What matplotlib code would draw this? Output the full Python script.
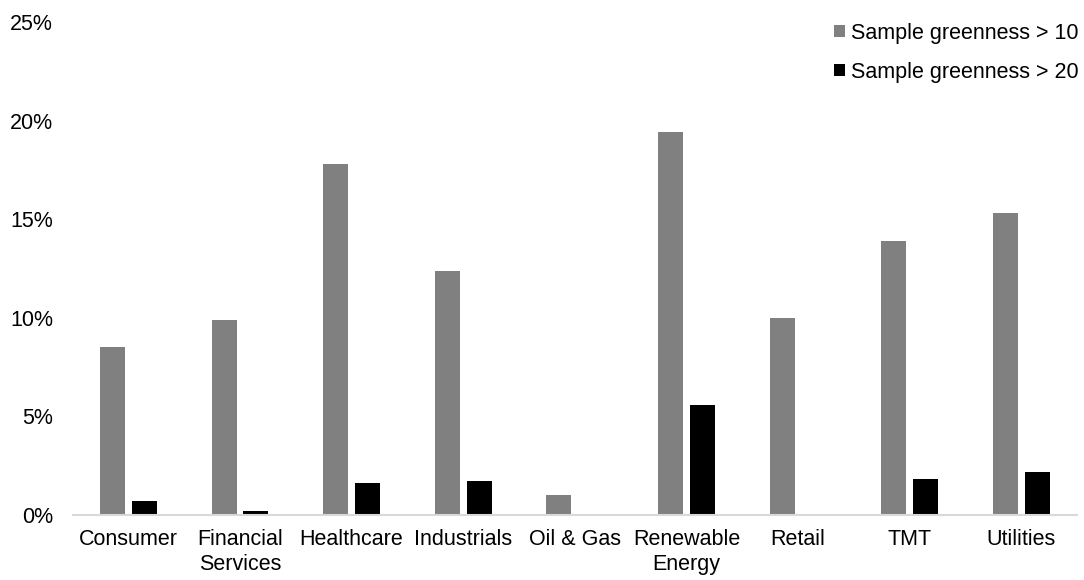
import numpy as np
import matplotlib.pyplot as plt
from matplotlib.patches import Patch
from matplotlib.ticker import FuncFormatter

plt.rcParams['font.family'] = ['Liberation Sans', 'DejaVu Sans']

categories = ["Consumer", "Financial\nServices", "Healthcare", "Industrials", "Oil & Gas",
              "Renewable\nEnergy", "Retail", "TMT", "Utilities"]
greenness_10 = [8.5, 9.9, 17.8, 12.4, 1.0, 19.4, 10.0, 13.9, 15.3]
greenness_20 = [0.7, 0.2, 1.6, 1.75, 0.0, 5.6, 0.0, 1.85, 2.2]
series_labels = ["Sample greenness > 10", "Sample greenness > 20"]
colors = ["#808080", "#000000"]

fs = 15.5
fig = plt.figure(figsize=(10.84, 5.8), dpi=100)
ax = fig.add_axes([0.067, 0.112, 0.9265, 0.85])

x = np.arange(len(categories))
w = 0.224
off = 0.143
ax.bar(x - off, greenness_10, width=w, color=colors[0])
ax.bar(x + off, greenness_20, width=w, color=colors[1])

ax.set_xlim(-0.5, len(categories) - 0.5)
ax.set_ylim(0, 25)
ax.set_yticks([0, 5, 10, 15, 20, 25])
ax.yaxis.set_major_formatter(FuncFormatter(lambda v, p: "{:.0f}%".format(v)))
ax.set_xticks(x)
ax.set_xticklabels(categories, fontsize=fs, linespacing=1.25)
ax.tick_params(axis='y', labelsize=fs, length=0, pad=14)
ax.tick_params(axis='x', length=0, pad=10)
for s in ["top", "right", "left"]:
    ax.spines[s].set_visible(False)
ax.spines["bottom"].set_color("#d9d9d9")
ax.spines["bottom"].set_linewidth(1.5)

handles = [Patch(facecolor=c) for c in colors]
fig.legend(handles, series_labels, loc="upper right", bbox_to_anchor=(1.003, 0.976),
           borderaxespad=0, frameon=False, fontsize=fs, handlelength=0.5,
           handleheight=0.5, handletextpad=0.3, labelspacing=0.85)

fig.savefig("out.png", dpi=100, facecolor="white")
